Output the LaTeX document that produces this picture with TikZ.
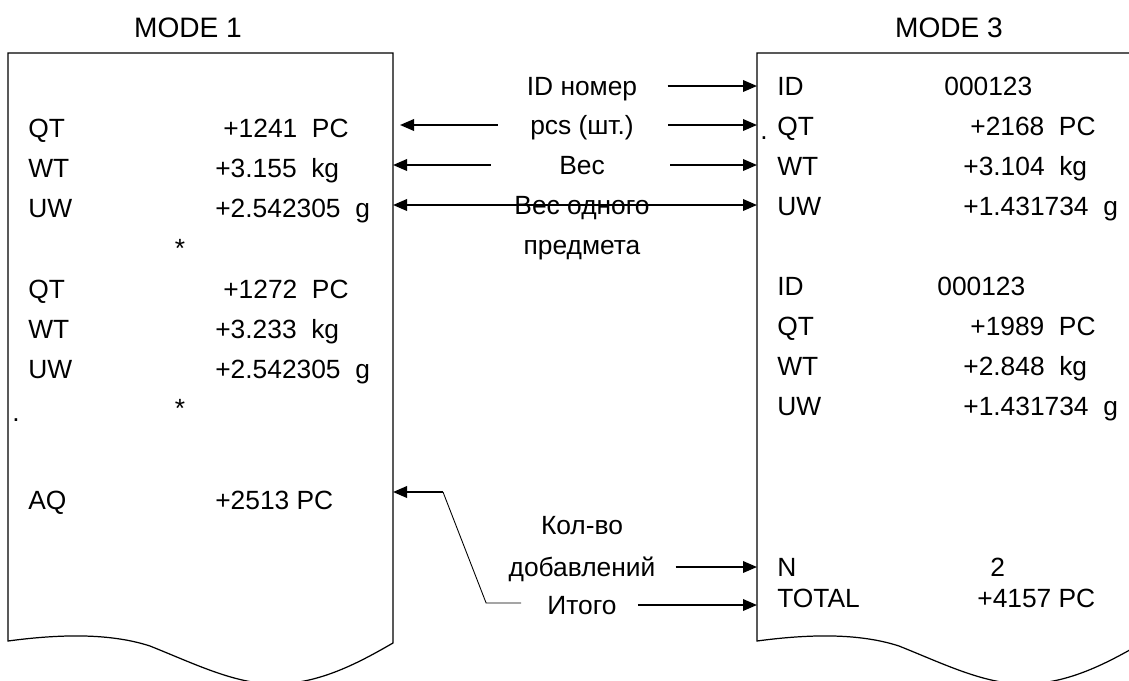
\documentclass[tikz,border=0pt]{standalone}
\usepackage{fontspec}
\setmainfont{Liberation Sans}
\usetikzlibrary{arrows.meta,calc}

\begin{document}
\begin{tikzpicture}[x=0.02cm, y=-0.02cm, >={Triangle[length=2.8mm,width=2.3mm]},
  txt/.style={inner sep=0pt, text height=10.7pt, text depth=0pt, font=\fontsize{15}{18}\selectfont},
  lbl/.style={txt, anchor=west},
  arr/.style={->, line width=1.1pt},
  paper/.style={line width=0.7pt}]
  \useasboundingbox (0,0) rectangle (1129,680);
  \clip (0,0) rectangle (1129,680);

  % MODE 1
  \node[txt, font=\fontsize{16}{19}\selectfont] (mode1) at (188,28) {MODE 1};
  \draw[paper] (8,641) -- (8,53) -- (393,53) coordinate (b1) -- (393,643)
    .. controls (360,662) and (320,684) .. (275,684)
    .. controls (235,684) and (195,664) .. (150,646)
    .. controls (110,633) and (60,634) .. (8,641) -- cycle;

  \node[lbl] (l_qt1) at (28,128) {QT};
  \node[lbl] (l_qt1v) at (223,128) {+1241\ \ PC};
  \node[lbl] (l_wt1) at (28,168) {WT};
  \node[lbl] (l_wt1v) at (215,168) {+3.155\ \ kg};
  \node[lbl] (l_uw1) at (28,208) {UW};
  \node[lbl] (l_uw1v) at (215,208) {+2.542305\ \ g};
  \node[txt] (l_star1) at (180,248) {*};
  \node[lbl] (l_qt2) at (28,289) {QT};
  \node[lbl] (l_qt2v) at (223,289) {+1272\ \ PC};
  \node[lbl] (l_wt2) at (28,329) {WT};
  \node[lbl] (l_wt2v) at (215,329) {+3.233\ \ kg};
  \node[lbl] (l_uw2) at (28,369) {UW};
  \node[lbl] (l_uw2v) at (215,369) {+2.542305\ \ g};
  \node[txt] (l_star2) at (180,408) {*};
  \node[lbl] (l_dot) at (12,412) {.};
  \node[lbl] (l_aq) at (28,500) {AQ};
  \node[lbl] (l_aqv) at (215,500) {+2513 PC};

  % MODE 3
  \node[txt, font=\fontsize{16}{19}\selectfont] (mode3) at (949,28) {MODE 3};
  \draw[paper, shift={(749,0)}] (8,641) -- (8,53) coordinate (b3) -- (393,53) -- (393,643)
    .. controls (360,662) and (320,684) .. (275,684)
    .. controls (235,684) and (195,664) .. (150,646)
    .. controls (110,633) and (60,634) .. (8,641) -- cycle;

  \node[lbl] (r_id1) at (777,86) {ID};
  \node[lbl] (r_id1v) at (944,86) {000123};
  \node[lbl] (r_dot) at (760,130) {.};
  \node[lbl] (r_qt1) at (777,126) {QT};
  \node[lbl] (r_qt1v) at (970,126) {+2168\ \ PC};
  \node[lbl] (r_wt1) at (777,166) {WT};
  \node[lbl] (r_wt1v) at (963,166) {+3.104\ \ kg};
  \node[lbl] (r_uw1) at (777,206) {UW};
  \node[lbl] (r_uw1v) at (963,206) {+1.431734\ \ g};
  \node[lbl] (r_id2) at (777,286) {ID};
  \node[lbl] (r_id2v) at (937,286) {000123};
  \node[lbl] (r_qt2) at (777,326) {QT};
  \node[lbl] (r_qt2v) at (970,326) {+1989\ \ PC};
  \node[lbl] (r_wt2) at (777,366) {WT};
  \node[lbl] (r_wt2v) at (963,366) {+2.848\ \ kg};
  \node[lbl] (r_uw2) at (777,406) {UW};
  \node[lbl] (r_uw2v) at (963,406) {+1.431734\ \ g};
  \node[lbl] (r_n) at (777,567) {N};
  \node[lbl] (r_nv) at (990,567) {2};
  \node[lbl] (r_tot) at (777,598) {TOTAL};
  \node[lbl] (r_totv) at (977,598) {+4157 PC};

  % labels between the two printouts
  \node[txt] (m_id) at (582,86) {ID номер};
  \node[txt] (m_pcs) at (582,125) {pcs (шт.)};
  \node[txt] (m_wt) at (582,165) {Вес};
  \node[txt] (m_uw) at (582,205) {Вес одного};
  \node[txt] (m_uw2) at (582,245) {предмета};
  \node[txt] (m_add) at (582,525) {Кол-во};
  \node[txt] (m_add2) at (582,567) {добавлений};
  \node[txt] (m_tot) at (582,605) {Итого};

  \draw[arr] ($(m_id.east)+(30,0)$) -- (m_id.east -| b3);
  \draw[arr] ($(m_pcs.east)+(34,0)$) -- (m_pcs.east -| b3);
  \draw[arr] ($(m_pcs.west)+(-32,0)$) -- ($(m_pcs.west -| b1)+(7,0)$);
  \draw[arr] ($(m_wt.east)+(65,0)$) -- (m_wt.east -| b3);
  \draw[arr] ($(m_wt.west)+(-68,0)$) -- (m_wt.west -| b1);
  \draw[arr, <->] (m_uw.west -| b1) -- (m_uw.east -| b3);
  \draw[arr] ($(m_add2.east)+(20,0)$) -- (m_add2.east -| b3);
  \draw[arr] ($(m_tot.east)+(21,0)$) -- (m_tot.east -| b3);

  % AQ
  \coordinate (aq_bend) at (443,492);
  \draw[line width=0.5pt] ($(m_tot.west)+(-26,-2)$) -- ++(-35,0) -- (aq_bend);
  \draw[arr] (aq_bend) -- (aq_bend -| b1);
\end{tikzpicture}
\end{document}
